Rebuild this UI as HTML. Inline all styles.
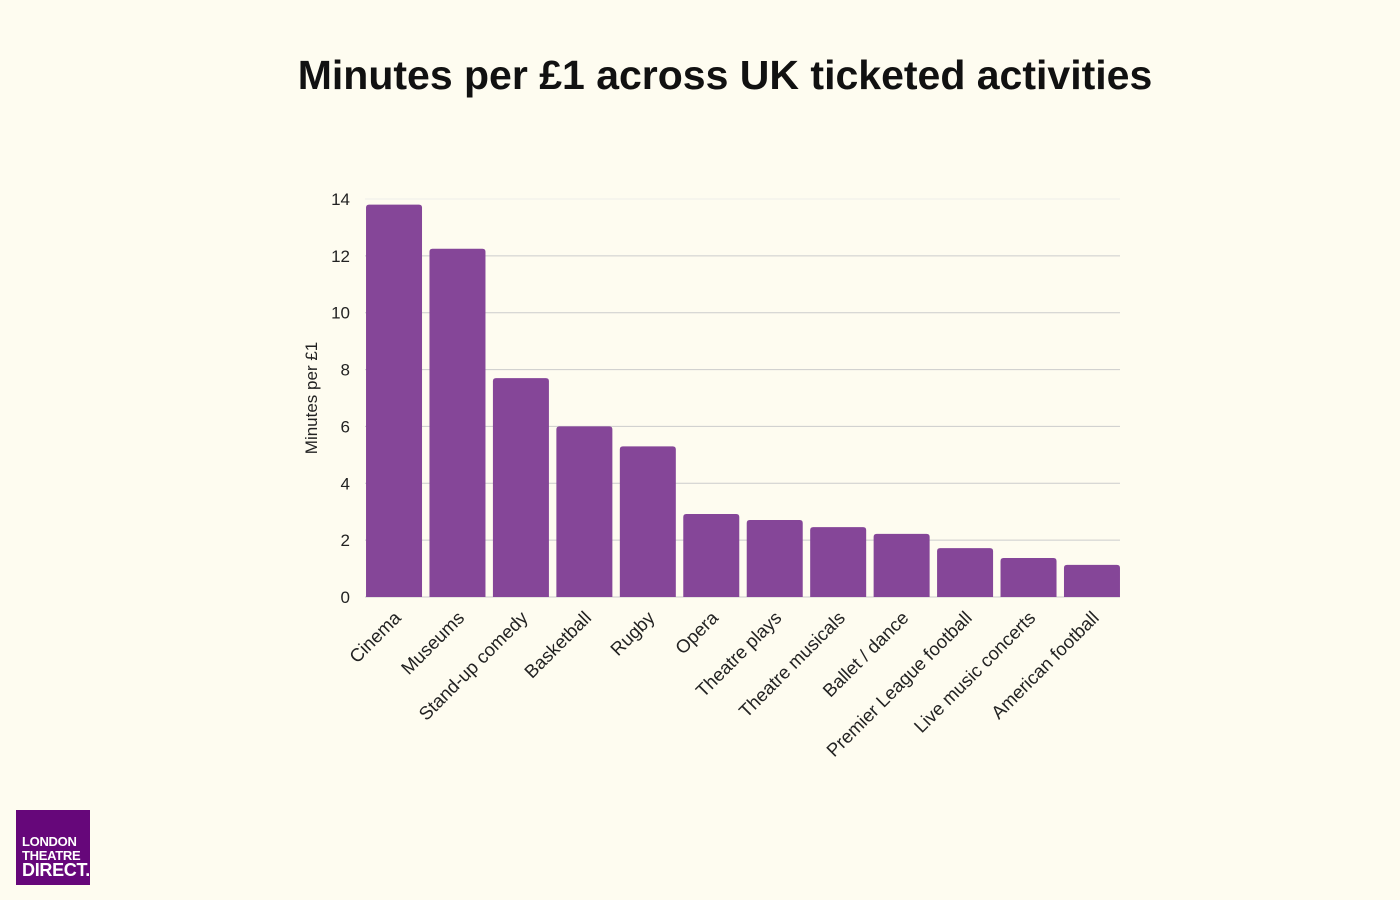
<!DOCTYPE html>
<html><head><meta charset="utf-8"><style>
body{margin:0;width:1400px;height:900px;background:#fefcf0;font-family:"Liberation Sans",sans-serif;overflow:hidden;position:relative}
#title{position:absolute;top:52px;left:0;width:1450px;text-align:center;font-size:41px;font-weight:bold;color:#111}
#logo{position:absolute;left:16px;top:810px;width:74px;height:75px;background:#66077a;color:#fff;font-weight:bold;font-size:13px;line-height:13.5px;box-sizing:border-box;padding:25px 0 0 6px;letter-spacing:-0.3px}
#logo .d{font-size:18px;line-height:17px}
</style></head><body>
<div id="title">Minutes per £1 across UK ticketed activities</div>
<svg id="chart" width="1400" height="900" style="position:absolute;left:0;top:0"></svg>
<div id="logo">LONDON<br>THEATRE<br><span class="d">DIRECT.</span></div>
<script>
const categories=["Cinema","Museums","Stand-up comedy","Basketball","Rugby","Opera","Theatre plays","Theatre musicals","Ballet / dance","Premier League football","Live music concerts","American football"];
const values=[13.8,12.25,7.7,6.0,5.3,2.92,2.71,2.46,2.22,1.72,1.37,1.13];
const yTicks=[0,2,4,6,8,10,12,14];
const NS="http://www.w3.org/2000/svg";
const svg=document.getElementById('chart');
const x0=362.3,x1=1123.7,yb=597,yt=199,ymax=14;
const y=v=>yb-(v/ymax)*(yb-yt);
const band=(x1-x0)/categories.length;
const xc=i=>x0+band*(i+0.5);
function mk(t,a){const e=document.createElementNS(NS,t);for(const k in a)e.setAttribute(k,a[k]);svg.appendChild(e);return e;}
yTicks.forEach(t=>{
 const l=mk('line',{x1:365,x2:1120,y1:y(t),y2:y(t),stroke:t==14?'#eeeeea':'#cccccc','stroke-width':1});
 
 
 const tx=mk('text',{x:350,y:y(t)+6,'text-anchor':'end','font-size':17,fill:'#222','font-family':'Liberation Sans, sans-serif'});
 tx.textContent=t;
 
 
});
const yt2=mk('text',{x:0,y:0,transform:'translate(317,398) rotate(-90)','text-anchor':'middle','font-size':17,fill:'#222','font-family':'Liberation Sans, sans-serif'});
yt2.textContent='Minutes per £1';


const bw=56;
categories.forEach((c,i)=>{
 const top=y(values[i]);
 const r=mk('path',{d:`M${xc(i)-bw/2},${yb}V${top+3}q0,-3 3,-3h${bw-6}q3,0 3,3V${yb}Z`,fill:'#854698'});
 
 
 const t=mk('text',{x:0,y:0,transform:`translate(${xc(i)+8},${yb+22}) rotate(-45)`,'text-anchor':'end','font-size':18.5,fill:'#222','font-family':'Liberation Sans, sans-serif'});
 t.textContent=c;
 
 
});
</script>
</body></html>
